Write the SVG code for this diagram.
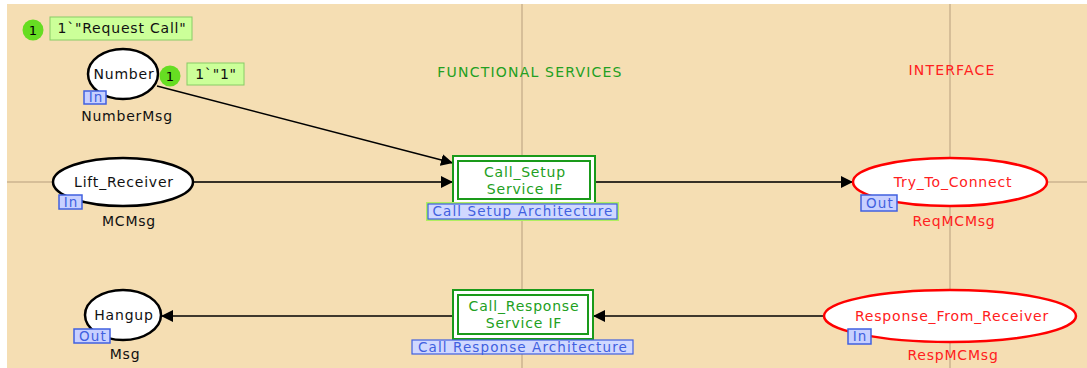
<svg xmlns="http://www.w3.org/2000/svg" width="1087" height="368" viewBox="0 0 1087 368">
<defs>
<marker id="arr" viewBox="0 0 10 10" refX="10" refY="5" markerWidth="12" markerHeight="12" markerUnits="userSpaceOnUse" orient="auto"><path d="M0,0 L10,5 L0,10 z" fill="#000"/></marker>
<style>
text{font-family:"DejaVu Sans",Verdana,sans-serif;font-size:14px;letter-spacing:0.8px;text-anchor:middle}
.pb{fill:#fff;stroke:#000;stroke-width:2.5}
.pr{fill:#fff;stroke:#ff0000;stroke-width:2.5}
.tb{fill:#111}
.tr{fill:#ff2020}
.tg{fill:#22a022}
.cap{letter-spacing:1.2px}
.tag{fill:#c8d0ff;stroke:#4060e0;stroke-width:1.5}
.tagt{fill:#4060e0;font-size:13.5px;letter-spacing:1.1px}
.tok{fill:#66dd22}
.tokt{fill:#000;font-size:13px;letter-spacing:0}
.tokl{fill:#ccff99;stroke:#88cc66;stroke-width:1}
.arc{stroke:#000;stroke-width:1.5;fill:none;marker-end:url(#arr)}
.grid{stroke:#d6be98;stroke-width:2}
</style>
</defs>
<rect x="0" y="0" width="1087" height="368" fill="#fff"/>
<rect x="7" y="4" width="1080" height="364" fill="#f5deb3"/>
<g id="grid">
<line class="grid" x1="522" y1="4" x2="522" y2="368"/>
<line class="grid" x1="950" y1="4" x2="950" y2="368"/>
<line class="grid" x1="7" y1="182" x2="1087" y2="182"/>
</g>
<text x="530" y="77" class="tg cap">FUNCTIONAL SERVICES</text>
<text x="952" y="75" class="tr cap">INTERFACE</text>
<g id="connectors">
<line class="arc" x1="157" y1="86" x2="453" y2="163"/>
<line class="arc" x1="193" y1="182" x2="453" y2="182"/>
<line class="arc" x1="595" y1="182" x2="853" y2="182"/>
<line class="arc" x1="824" y1="316" x2="593" y2="316"/>
<line class="arc" x1="453" y1="316" x2="161" y2="316"/>
</g>
<g id="token-request">
<circle class="tok" cx="33" cy="30" r="10.5"/>
<text x="33" y="35" class="tokt">1</text>
<rect class="tokl" x="50" y="17" width="142" height="23"/>
<text x="122" y="33" class="tb">1`"Request Call"</text>
</g>
<g id="Number">
<ellipse class="pb" cx="123" cy="74" rx="35" ry="25"/>
<text x="124" y="79" class="tb">Number</text>
<rect class="tag" x="84" y="91" width="22" height="13"/>
<text x="96" y="102" class="tagt">In</text>
<text x="127" y="121" class="tb">NumberMsg</text>
<circle class="tok" cx="170" cy="76" r="10.5"/>
<text x="170" y="81" class="tokt">1</text>
<rect class="tokl" x="187" y="63" width="57" height="22"/>
<text x="216" y="79" class="tb">1`"1"</text>
</g>
<g id="Lift_Receiver">
<ellipse class="pb" cx="123" cy="182" rx="70" ry="24"/>
<text x="124" y="187" class="tb">Lift_Receiver</text>
<rect class="tag" x="59" y="195" width="23" height="14"/>
<text x="71" y="207" class="tagt">In</text>
<text x="129" y="226" class="tb">MCMsg</text>
</g>
<g id="Call_Setup">
<rect x="453" y="156" width="142" height="48" fill="#fff" stroke="#1a9a1a" stroke-width="2"/>
<rect x="458" y="161" width="132" height="38" fill="#fff" stroke="#1a9a1a" stroke-width="2"/>
<text x="525" y="177" class="tg">Call_Setup</text>
<text x="525" y="194" class="tg">Service IF</text>
<rect x="428" y="204" width="189" height="15" fill="#d0d8ff" stroke="#b0ee60" stroke-width="4"/>
<rect x="428" y="204" width="189" height="15" fill="#d0d8ff" stroke="#4060e0" stroke-width="1.2"/>
<text x="523" y="216" class="tagt">Call Setup Architecture</text>
</g>
<g id="Try_To_Connect">
<ellipse class="pr" cx="950" cy="182" rx="97" ry="24"/>
<text x="953" y="187" class="tr">Try_To_Connect</text>
<rect class="tag" x="861" y="195" width="36" height="16"/>
<text x="880" y="208" class="tagt">Out</text>
<text x="954" y="226" class="tr">ReqMCMsg</text>
</g>
<g id="Hangup">
<ellipse class="pb" cx="123" cy="315" rx="38" ry="25"/>
<text x="124" y="320" class="tb">Hangup</text>
<rect class="tag" x="74" y="329" width="36" height="14"/>
<text x="93" y="341" class="tagt">Out</text>
<text x="125" y="359" class="tb">Msg</text>
</g>
<g id="Call_Response">
<rect x="453" y="290" width="140" height="49" fill="#fff" stroke="#1a9a1a" stroke-width="2"/>
<rect x="458" y="295" width="130" height="39" fill="#fff" stroke="#1a9a1a" stroke-width="2"/>
<text x="524" y="311" class="tg">Call_Response</text>
<text x="524" y="328" class="tg">Service IF</text>
<rect x="412" y="340" width="221" height="14" fill="#d0d8ff" stroke="#4060e0" stroke-width="1.2"/>
<text x="523" y="352" class="tagt">Call Response Architecture</text>
</g>
<g id="Response_From_Receiver">
<ellipse class="pr" cx="950" cy="316" rx="126" ry="26"/>
<text x="952" y="321" class="tr">Response_From_Receiver</text>
<rect class="tag" x="848" y="329" width="23" height="15"/>
<text x="860" y="341" class="tagt">In</text>
<text x="953" y="360" class="tr">RespMCMsg</text>
</g>
</svg>
